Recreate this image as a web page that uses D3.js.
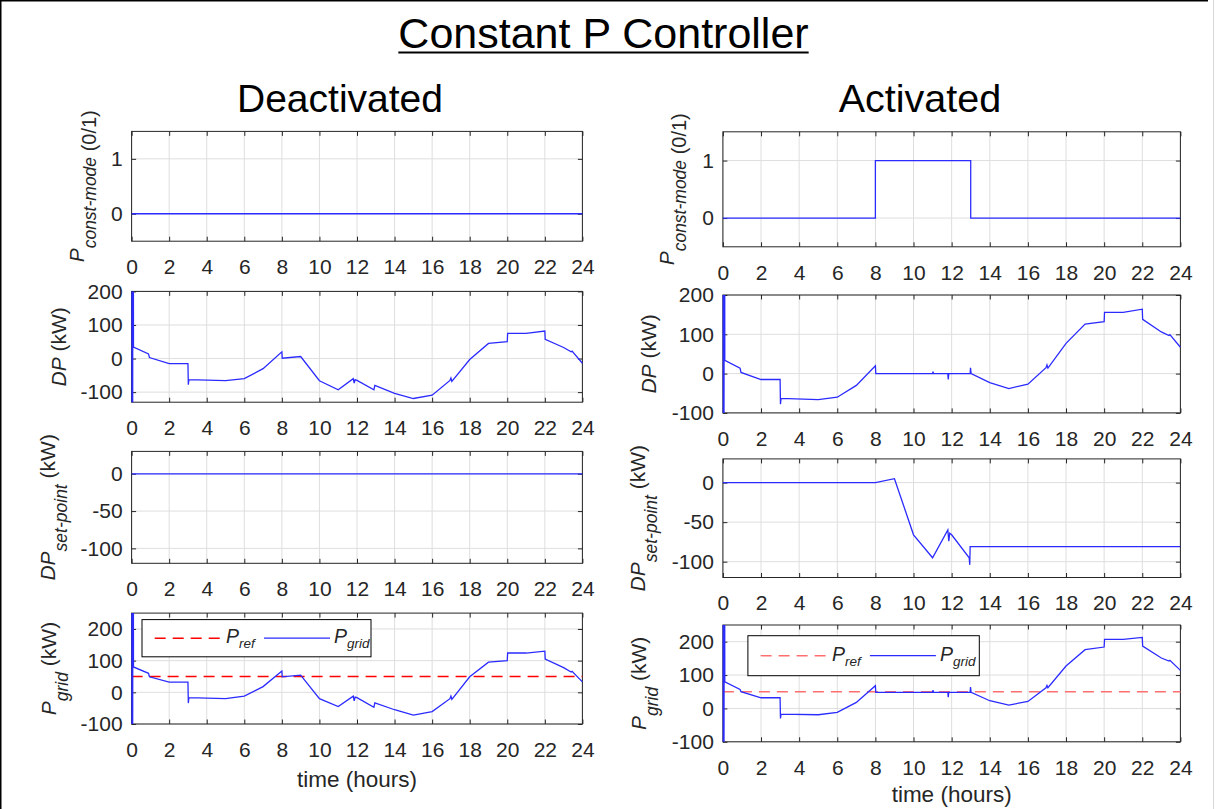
<!DOCTYPE html>
<html>
<head>
<meta charset="utf-8">
<script src="https://cdn.jsdelivr.net/npm/d3@7"></script>
<style>
  body { margin: 0; background: #fff; }
  svg { display: block; font-family: Arial, "Liberation Sans", Helvetica, sans-serif; }
</style>
</head>
<body>
<svg id="chart" width="1217" height="809"></svg>
<script>
// ---- data (time in hours, values in kW or 0/1) ----
const xTicks = [0, 2, 4, 6, 8, 10, 12, 14, 16, 18, 20, 22, 24]
const modeTicks = [0, 1]
const dpTicks = [-100, 0, 100, 200]
const setTicks = [-100, -50, 0]
const gridTicks = [-100, 0, 100, 200]

const modeOff = [[0, 0], [24, 0]]
const modeOn = [[0, 0], [8, 0], [8, 1], [13, 1], [13, 0], [24, 0]]

// large start-up transient at t = 0 is part of the logged signal
const dpOff = [
  [0, 999], [0.04, -999], [0.08, 999], [0.1, 34], [0.9, 14], [0.95, 3], [2, -15], [3, -15],
  [3.02, -78], [3.05, -63], [5, -66], [6, -60], [7, -30], [8, 20], [8.02, 1], [9, 6],
  [10, -66], [11, -93], [11.8, -60], [11.85, -73], [11.9, -63], [12, -65], [12.9, -93],
  [12.95, -80], [14, -104], [15, -119], [16, -109], [16.95, -65], [17, -58], [17.05, -68],
  [18, -3], [19, 45], [20, 50], [20.02, 75], [21, 75], [22, 82], [22.02, 57], [23, 33],
  [23.4, 20], [23.45, 22], [24, -14]
]
const dpOn = [
  [0, 999], [0.04, -999], [0.08, 999], [0.1, 34], [0.9, 14], [0.95, 3], [2, -15], [3, -15],
  [3.02, -78], [3.05, -63], [5, -66], [6, -60], [7, -30], [8, 20], [8.02, 0], [11, 0],
  [11.02, 5], [11.05, 0], [11.8, 0], [11.82, -15], [11.85, 0], [12.97, 0], [12.99, 15],
  [13.02, 0], [14, -23], [15, -38], [16, -27], [16.95, 15], [17, 22], [17.05, 14], [18, 77],
  [19, 126], [20, 132], [20.02, 156], [21, 156], [22, 164], [22.02, 138], [23, 106],
  [23.4, 97], [23.45, 99], [24, 67]
]

const setOff = [[0, 0], [24, 0]]
const setOn = [
  [0, 0], [8, 0], [9, 5], [10, -66], [11, -95], [11.8, -60], [11.85, -74], [11.9, -64],
  [12, -66], [12.92, -95], [12.95, -104], [12.97, -81], [24, -81]
]

const prefOff = [[0, 50], [24, 50]]
const prefOn = [[0, 50], [24, 50]]
const gridOff = [
  [0, 999], [0.04, -999], [0.08, 999], [0.1, 80], [0.9, 60], [0.95, 49], [2, 32], [3, 32],
  [3.02, -34], [3.05, -17], [5, -20], [6, -12], [7, 18], [8, 67], [8.02, 49], [9, 54],
  [10, -20], [11, -45], [11.8, -12], [11.85, -27], [11.9, -15], [12, -17], [12.9, -47],
  [12.95, -33], [14, -55], [15, -72], [16, -61], [16.95, -20], [17, -12], [17.05, -22],
  [18, 49], [19, 95], [20, 100], [20.02, 124], [21, 124], [22, 130], [22.02, 105], [23, 78],
  [23.4, 64], [23.45, 66], [24, 33]
]
const gridOn = [
  [0, 999], [0.04, -999], [0.08, 999], [0.1, 80], [0.9, 57], [0.95, 50], [2, 32], [3, 32],
  [3.02, -30], [3.05, -17], [5, -19], [6, -12], [7, 18], [8, 68], [8.02, 48], [11, 48],
  [11.02, 55], [11.05, 48], [11.8, 48], [11.82, 34], [11.85, 48], [12.97, 48], [12.99, 64],
  [13.02, 48], [14, 23], [15, 10], [16, 21], [16.95, 62], [17, 69], [17.05, 62], [18, 127],
  [19, 176], [20, 184], [20.02, 207], [21, 207], [22, 213], [22.02, 187], [23, 151],
  [23.4, 142], [23.45, 144], [24, 114]
]

// ---- layout ----
const svg = d3.select('#chart')
const ink = '#262626'
const blue = '#2b2bff'

const columns = [
  { x0: 131.6, x1: 582.4, title: 'Deactivated', tx: 340, tsize: 39, red: '#ff0000', xlabelDy: 63,
    legend: { x: 142, y: 619.6, w: 229, h: 37.2 } },
  { x0: 722.9, x1: 1180.4, title: 'Activated', tx: 920, tsize: 39.5, red: '#ff6f6f', xlabelDy: 60,
    legend: { x: 747.9, y: 635.7, w: 231.4, h: 40 } }
]

const panels = [
  { col: 0, top: 131.4, bottom: 241.2, domain: [-0.5, 1.5], ticks: modeTicks, series: [modeOff],
    label: { main: 'P', sub: 'const-mode', unit: '(0/1)', unitSub: true, dx: 48 } },
  { col: 0, top: 291.4, bottom: 402.2, domain: [-130, 200], ticks: dpTicks, series: [dpOff],
    label: { main: 'DP', unit: '(kW)', dx: 66 } },
  { col: 0, top: 451.4, bottom: 563.3, domain: [-120, 30], ticks: setTicks, series: [setOff],
    label: { main: 'DP', sub: 'set-point', unit: '(kW)', dx: 77 } },
  { col: 0, top: 613.1, bottom: 724, domain: [-100, 250], ticks: gridTicks, series: [gridOff],
    ref: prefOff, label: { main: 'P', sub: 'grid', unit: '(kW)', dx: 76 }, xlabel: true },
  { col: 1, top: 131.8, bottom: 246.8, domain: [-0.5, 1.5], ticks: modeTicks, series: [modeOn],
    label: { main: 'P', sub: 'const-mode', unit: '(0/1)', unitSub: true, dx: 49 } },
  { col: 1, top: 295, bottom: 412.9, domain: [-100, 200], ticks: dpTicks, series: [dpOn],
    label: { main: 'DP', unit: '(kW)', dx: 67 } },
  { col: 1, top: 458.9, bottom: 577.5, domain: [-120, 30], ticks: setTicks, series: [setOn],
    label: { main: 'DP', sub: 'set-point', unit: '(kW)', dx: 78 } },
  { col: 1, top: 625, bottom: 741.8, domain: [-100, 250], ticks: gridTicks, series: [gridOn],
    ref: prefOn, label: { main: 'P', sub: 'grid', unit: '(kW)', dx: 77 }, xlabel: true }
]

// frame of the exported figure
svg.append('line').attr('x1', 0).attr('x2', 1208).attr('y1', 0.75).attr('y2', 0.75)
  .attr('stroke', '#000').attr('stroke-width', 1.5)
svg.append('line').attr('x1', 0.75).attr('x2', 0.75).attr('y1', 0).attr('y2', 809)
  .attr('stroke', '#000').attr('stroke-width', 1.5)
svg.append('line').attr('x1', 1213.5).attr('x2', 1213.5).attr('y1', 0).attr('y2', 809)
  .attr('stroke', '#d8d8d8').attr('stroke-width', 1)

// main title, underlined
const title = svg.append('text')
  .attr('x', 603.5).attr('y', 48)
  .attr('text-anchor', 'middle')
  .attr('font-size', 43)
  .attr('fill', '#000')
  .text('Constant P Controller')
const tw = title.node().getComputedTextLength()
svg.append('line')
  .attr('x1', 603.5 - tw / 2).attr('x2', 603.5 + tw / 2)
  .attr('y1', 52.5).attr('y2', 52.5)
  .attr('stroke', '#000').attr('stroke-width', 2.2)

columns.forEach(c => {
  svg.append('text')
    .attr('x', c.tx).attr('y', 112)
    .attr('text-anchor', 'middle')
    .attr('font-size', c.tsize)
    .attr('fill', '#000')
    .text(c.title)
})

panels.forEach((p, i) => drawPanel(p, i))

function drawPanel (p, i) {
  const col = columns[p.col]
  const x = d3.scaleLinear().domain([0, 24]).range([col.x0, col.x1])
  const y = d3.scaleLinear().domain(p.domain).range([p.bottom, p.top])
  const g = svg.append('g')
  const plain = d => String(d) // MATLAB style: hyphen minus, no decimals

  // grid
  g.append('g').selectAll('line').data(xTicks).join('line')
    .attr('x1', d => x(d)).attr('x2', d => x(d))
    .attr('y1', p.top).attr('y2', p.bottom)
    .attr('stroke', '#dedede').attr('stroke-width', 1)
  g.append('g').selectAll('line').data(p.ticks).join('line')
    .attr('x1', col.x0).attr('x2', col.x1)
    .attr('y1', d => y(d)).attr('y2', d => y(d))
    .attr('stroke', '#dedede').attr('stroke-width', 1)

  // box
  g.append('rect')
    .attr('x', col.x0).attr('y', p.top)
    .attr('width', col.x1 - col.x0).attr('height', p.bottom - p.top)
    .attr('fill', 'none').attr('stroke', ink).attr('stroke-width', 1)

  // axes with inward ticks on all four sides
  const tick = 4.5
  const bottomAxis = g.append('g').attr('transform', `translate(0,${p.bottom})`)
    .call(d3.axisBottom(x).tickValues(xTicks).tickFormat(plain).tickSizeInner(-tick).tickSizeOuter(0))
  bottomAxis.selectAll('text').attr('y', 18).attr('dy', '0.71em')
  g.append('g').attr('transform', `translate(0,${p.top})`)
    .call(d3.axisTop(x).tickValues(xTicks).tickSizeInner(-tick).tickSizeOuter(0).tickFormat(''))
  g.append('g').attr('transform', `translate(${col.x0},0)`)
    .call(d3.axisLeft(y).tickValues(p.ticks).tickFormat(plain).tickSizeInner(-tick).tickSizeOuter(0).tickPadding(9))
  g.append('g').attr('transform', `translate(${col.x1},0)`)
    .call(d3.axisRight(y).tickValues(p.ticks).tickSizeInner(-tick).tickSizeOuter(0).tickFormat(''))
  g.selectAll('.domain').remove()
  g.selectAll('.tick line').attr('stroke', ink)
  g.selectAll('.tick text')
    .attr('fill', ink)
    .attr('font-size', 21)
    .attr('font-family', 'Arial, "Liberation Sans", Helvetica, sans-serif')

  // lines, clipped to the axes box (drawn over the box like the reference)
  const clipId = 'clip' + i
  svg.append('clipPath').attr('id', clipId)
    .append('rect')
    .attr('x', col.x0 - 1.5).attr('y', p.top)
    .attr('width', col.x1 - col.x0 + 3).attr('height', p.bottom - p.top)
  const line = d3.line().x(d => x(d[0])).y(d => y(d[1]))
  const lines = g.append('g').attr('clip-path', `url(#${clipId})`)
  if (p.ref) {
    lines.append('path').datum(p.ref).attr('d', line)
      .attr('fill', 'none').attr('stroke', col.red)
      .attr('stroke-width', 1.4).attr('stroke-dasharray', '11,7')
  }
  p.series.forEach(s => {
    lines.append('path').datum(s).attr('d', line)
      .attr('fill', 'none').attr('stroke', blue).attr('stroke-width', 1.3)
  })

  // y label (rotated, with TeX-like subscript)
  const cy = (p.top + p.bottom) / 2
  const lab = g.append('text')
    .attr('transform', `translate(${col.x0 - p.label.dx},${cy}) rotate(-90)`)
    .attr('text-anchor', 'middle')
    .attr('font-size', 21)
    .attr('fill', ink)
  lab.append('tspan').attr('font-style', 'italic').text(p.label.main)
  const subDy = 12
  if (p.label.sub) {
    lab.append('tspan').attr('font-style', 'italic').attr('font-size', 17.5)
      .attr('dy', subDy).text(p.label.sub)
  }
  if (p.label.unitSub) {
    lab.append('tspan').attr('font-size', 20).text('\u00a0' + p.label.unit)
  } else {
    lab.append('tspan').attr('dy', p.label.sub ? -subDy : 0).text('\u00a0' + p.label.unit)
  }

  if (p.xlabel) {
    g.append('text')
      .attr('x', (col.x0 + col.x1) / 2).attr('y', p.bottom + col.xlabelDy)
      .attr('text-anchor', 'middle')
      .attr('font-size', 22.5)
      .attr('fill', ink)
      .text('time (hours)')
  }

  if (p.ref) drawLegend(g, col)
}

function drawLegend (g, col) {
  const L = col.legend
  const lg = g.append('g').attr('transform', `translate(${L.x},${L.y})`)
  lg.append('rect').attr('width', L.w).attr('height', L.h)
    .attr('fill', '#fff').attr('stroke', '#000').attr('stroke-width', 1)
  const my = L.h / 2
  lg.append('line').attr('x1', 12.7).attr('x2', 79).attr('y1', my).attr('y2', my)
    .attr('stroke', col.red).attr('stroke-width', 1.4).attr('stroke-dasharray', '11,7')
  lg.append('line').attr('x1', 122).attr('x2', 188).attr('y1', my).attr('y2', my)
    .attr('stroke', blue).attr('stroke-width', 1.3)
  const items = [{ x: 84, sub: 'ref' }, { x: 192, sub: 'grid' }]
  items.forEach(it => {
    const t = lg.append('text').attr('x', it.x).attr('y', my + 5)
      .attr('font-size', 19.5).attr('font-style', 'italic').attr('fill', ink)
    t.append('tspan').text('P')
    t.append('tspan').attr('font-size', 13.5).attr('dy', 5).text(it.sub)
  })
}
</script>
</body>
</html>
